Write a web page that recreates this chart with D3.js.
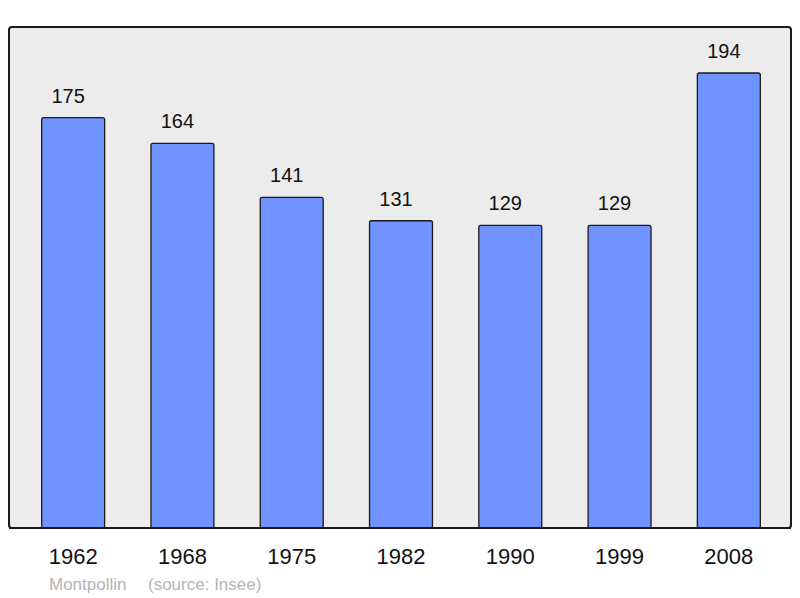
<!DOCTYPE html>
<html>
<head>
<meta charset="utf-8">
<script src="https://cdn.jsdelivr.net/npm/d3@7"></script>
<style>
  body { margin: 0; background: #fff; }
  text { font-family: "Liberation Sans", Arial, sans-serif; }
</style>
</head>
<body>
<div id="plot"></div>
<script>
// population data
const years = ["1962", "1968", "1975", "1982", "1990", "1999", "2008"];
const population = [175, 164, 141, 131, 129, 129, 194];
const commune = "Montpollin";
const source = "(source: Insee)";

const width = 800, height = 598;
const frame = {left: 9, top: 27, right: 791, bottom: 528};

const svg = d3.select("div#plot")
    .append("svg")
    .attr("width", width)
    .attr("height", height);

// background frame
svg.append("rect")
    .attr("x", frame.left)
    .attr("y", frame.top)
    .attr("width", frame.right - frame.left)
    .attr("height", frame.bottom - frame.top)
    .attr("rx", 3)
    .attr("fill", "#ececec")
    .attr("stroke", "#1a1a1a")
    .attr("stroke-width", 2);

const x = d3.scaleBand()
    .domain(years)
    .range([10, 792])
    .paddingInner(0.424)
    .paddingOuter(0.29);

const y = d3.scaleLinear()
    .domain([0, 194])
    .range([frame.bottom, 73]);

const data = years.map((yr, i) => ({year: yr, value: population[i]}));

// bars
svg.selectAll("rect.bar")
    .data(data)
    .join("rect")
    .attr("class", "bar")
    .attr("x", d => x(d.year))
    .attr("y", d => y(d.value))
    .attr("width", x.bandwidth())
    .attr("height", d => frame.bottom - y(d.value))
    .attr("rx", 2)
    .attr("fill", "#7093ff")
    .attr("stroke", "#1a1a1a")
    .attr("stroke-width", 1.3);

// redraw bottom edge of frame over bars
svg.append("line")
    .attr("x1", frame.left)
    .attr("x2", frame.right)
    .attr("y1", frame.bottom)
    .attr("y2", frame.bottom)
    .attr("stroke", "#1a1a1a")
    .attr("stroke-width", 2);

// value labels (sit a little left of the bar centre, like the original)
svg.selectAll("text.value")
    .data(data)
    .join("text")
    .attr("class", "value")
    .attr("x", d => x(d.year) + x.bandwidth() / 2 - 5)
    .attr("y", d => y(d.value) - 15)
    .attr("text-anchor", "middle")
    .attr("font-size", 20)
    .attr("fill", "#111")
    .text(d => d.value);

// x axis labels
const xAxis = svg.append("g")
    .attr("transform", `translate(0,${frame.bottom})`)
    .call(d3.axisBottom(x).tickSize(0).tickPadding(20));
xAxis.select(".domain").remove();
xAxis.selectAll("text")
    .attr("font-size", 22)
    .attr("font-family", "Liberation Sans, Arial, sans-serif")
    .attr("fill", "#111");

// footer
svg.append("text")
    .attr("x", 49)
    .attr("y", 590)
    .attr("font-size", 17)
    .attr("fill", "#b4b4b4")
    .text(commune);
svg.append("text")
    .attr("x", 148)
    .attr("y", 590)
    .attr("font-size", 17)
    .attr("fill", "#b4b4b4")
    .text(source);
</script>
</body>
</html>
